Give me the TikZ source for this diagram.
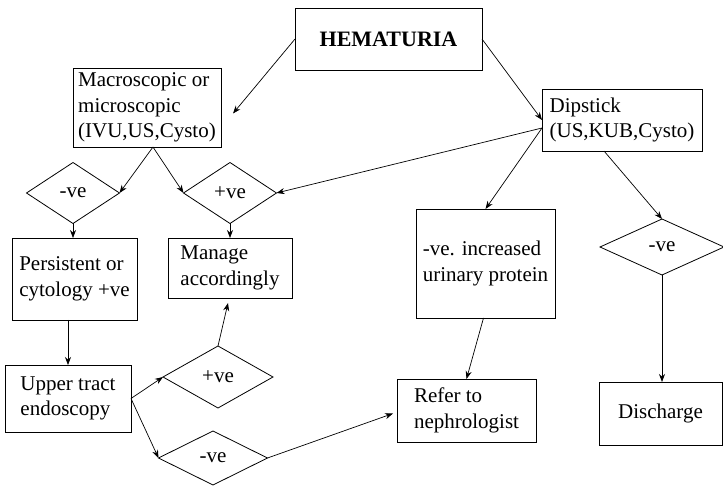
\documentclass[tikz,border=0pt]{standalone}
\usepackage{fontspec}
\setmainfont{Liberation Serif}
\usetikzlibrary{arrows.meta,shapes.geometric}
\begin{document}
\begin{tikzpicture}[x=1pt, y=-1pt,
    every node/.append style={font=\fontsize{21}{25.5}\selectfont},
    box/.style={draw, rectangle, inner sep=0pt, outer sep=0pt, align=left, line width=.8pt},
    test/.style={draw, diamond, inner sep=0pt, outer sep=0pt, line width=.8pt},
    flow/.style={-{Stealth[length=8pt,width=6pt]}, line width=.7pt}]
  \useasboundingbox (0,0) rectangle (723,486);

  % boxes
  \node[box, minimum width=187pt, minimum height=62pt, font=\fontsize{22}{26}\selectfont\bfseries] (hem) at (388.5,39) {HEMATURIA};
  \node[box, minimum width=148pt, minimum height=79pt] (macro) at (147,107.5) {Macroscopic or\\microscopic\\(IVU,US,Cysto)};
  \node[box, minimum width=160pt, minimum height=62pt] (dip) at (622,120) {Dipstick\\(US,KUB,Cysto)};
  \node[box, minimum width=125pt, minimum height=82pt] (pers) at (74.5,279) {Persistent or\\cytology +ve};
  \node[box, minimum width=124pt, minimum height=60pt] (manage) at (230,268) {Manage\\accordingly};
  \node[box, minimum width=126pt, minimum height=67pt] (upper) at (68,398.5) {Upper tract\\endoscopy};
  \node[box, minimum width=139pt, minimum height=109pt] (mid) at (485.5,263.5) {-ve. increased\\urinary protein};
  \node[box, minimum width=139pt, minimum height=63pt] (refer) at (466.5,410.5) {Refer to\\nephrologist};
  \node[box, minimum width=123pt, minimum height=63pt] (disch) at (660.5,413.5) {Discharge};

  % diamonds
  \node[test, minimum width=93pt, minimum height=61pt] (neg1) at (73,193) {-ve};
  \node[test, minimum width=93pt, minimum height=61pt] (pos1) at (230,193) {+ve};
  \node[test, minimum width=124pt, minimum height=56pt] (neg2) at (662,247) {-ve};
  \node[test, minimum width=110pt, minimum height=62pt] (pos2) at (218,377) {+ve};
  \node[test, minimum width=109pt, minimum height=54pt] (neg3) at (213,458) {-ve};

  % arrows
  \draw[flow] (hem.west) -- ([xshift=12pt,yshift=-6pt]macro.east);
  \draw[flow] (hem.east) -- (dip.west);
  \draw[flow] ([yshift=-8pt]dip.west) -- (pos1.east);
  \draw[flow] ([yshift=-8pt]dip.west) -- (mid.north);
  \draw[flow] ([xshift=-18pt]dip.south) -- (neg2.north);
  \draw[flow] (neg2.south) -- (neg2.south |- disch.north);
  \draw[flow] ([xshift=6pt]macro.south) -- (neg1.east);
  \draw[flow] ([xshift=6pt]macro.south) -- (pos1.west);
  \draw[flow] (neg1.south) -- (neg1.south |- pers.north);
  \draw[flow] (pos1.south) -- (manage.north);
  \draw[flow] (upper.north |- pers.south) -- (upper.north);
  \draw[flow] (upper.east) -- (pos2.west);
  \draw[flow] (upper.east) -- (neg3.west);
  \draw[flow] (pos2.north) -- ([xshift=-2pt,yshift=-5pt]manage.south);
  \draw[flow] (neg3.east) -- ([xshift=-4pt,yshift=-3pt]refer.west);
  \draw[flow] ([xshift=-2pt]mid.south) -- (refer.north);
\end{tikzpicture}
\end{document}
